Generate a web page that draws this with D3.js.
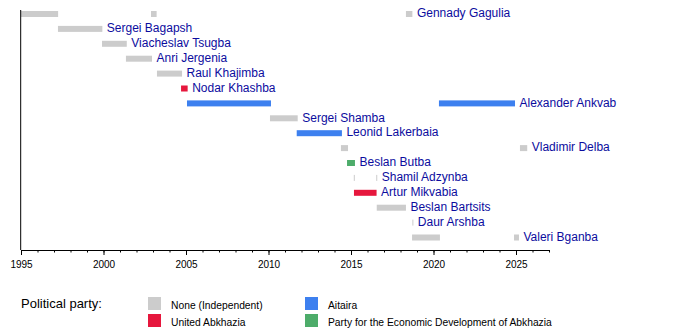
<!DOCTYPE html>
<html>
<head>
<meta charset="utf-8">
<script src="https://cdn.jsdelivr.net/npm/d3@7"></script>
<style>
  body { margin: 0; background: #fff; }
  text { font-family: "Liberation Sans", Arial, sans-serif; }
</style>
</head>
<body>
<script>
// people, top to bottom
const people = ["Gennady Gagulia","Sergei Bagapsh","Viacheslav Tsugba","Anri Jergenia","Raul Khajimba",
  "Nodar Khashba","Alexander Ankvab","Sergei Shamba","Leonid Lakerbaia","Vladimir Delba","Beslan Butba",
  "Shamil Adzynba","Artur Mikvabia","Beslan Bartsits","Daur Arshba","Valeri Bganba"];

const parties = ["None (Independent)","United Abkhazia","Aitaira","Party for the Economic Development of Abkhazia"];

// [name, from, to, party]
const terms = [
  ["Gennady Gagulia", 1995.0, 1997.25, "None (Independent)"],
  ["Gennady Gagulia", 2002.88, 2003.22, "None (Independent)"],
  ["Gennady Gagulia", 2018.33, 2018.72, "None (Independent)"],
  ["Sergei Bagapsh", 1997.24, 1999.93, "None (Independent)"],
  ["Viacheslav Tsugba", 1999.91, 2001.41, "None (Independent)"],
  ["Anri Jergenia", 2001.36, 2002.94, "None (Independent)"],
  ["Raul Khajimba", 2003.24, 2004.76, "None (Independent)"],
  ["Nodar Khashba", 2004.70, 2005.10, "United Abkhazia"],
  ["Alexander Ankvab", 2005.06, 2010.15, "Aitaira"],
  ["Alexander Ankvab", 2020.33, 2024.94, "Aitaira"],
  ["Sergei Shamba", 2010.09, 2011.77, "None (Independent)"],
  ["Leonid Lakerbaia", 2011.71, 2014.45, "Aitaira"],
  ["Vladimir Delba", 2014.39, 2014.82, "None (Independent)"],
  ["Vladimir Delba", 2025.24, 2025.68, "None (Independent)"],
  ["Beslan Butba", 2014.76, 2015.24, "Party for the Economic Development of Abkhazia"],
  ["Shamil Adzynba", 2015.17, 2015.23, "None (Independent)"],
  ["Shamil Adzynba", 2016.53, 2016.59, "None (Independent)"],
  ["Artur Mikvabia", 2015.18, 2016.55, "United Abkhazia"],
  ["Beslan Bartsits", 2016.56, 2018.33, "None (Independent)"],
  ["Daur Arshba", 2018.72, 2018.78, "None (Independent)"],
  ["Valeri Bganba", 2018.70, 2020.39, "None (Independent)"],
  ["Valeri Bganba", 2024.88, 2025.18, "None (Independent)"]
];

const majorTicks = [1995,2000,2005,2010,2015,2020,2025];
const yearRange = [1995, 2027];

const width = 700, height = 330;
const axisY = 250;

const svg = d3.select("body").append("svg")
  .attr("width", width).attr("height", height);

const x = d3.scaleLinear().domain(yearRange).range([21, 549]);
const y = d3.scaleBand().domain(people).range([6.55, 244.95]);
const color = d3.scaleOrdinal().domain(parties)
  .range(["#cccccc","#e6173d","#3d80ef","#4dac6a"]);

// bars
svg.append("g").selectAll("rect")
  .data(terms)
  .join("rect")
  .attr("x", d => x(d[1]))
  .attr("y", d => y(d[0]) + y.bandwidth()/2 - 3)
  .attr("width", d => Math.max(1, x(d[2]) - x(d[1])))
  .attr("height", 6)
  .attr("fill", d => color(d[3]));

// names after last bar
const lastEnd = d3.rollup(terms, v => d3.max(v, d => d[2]), d => d[0]);
svg.append("g").selectAll("text")
  .data(people)
  .join("text")
  .attr("x", d => x(lastEnd.get(d)) + 4.5)
  .attr("y", d => y(d) + y.bandwidth()/2 + 3.2)
  .attr("font-size", "12px")
  .attr("fill", "#0c0c9e")
  .text(d => d);

// axes
const minor = svg.append("g").attr("transform", `translate(0,${axisY})`)
  .call(d3.axisBottom(x).tickValues(d3.range(yearRange[0], yearRange[1] + 1)).tickSize(2.5).tickSizeOuter(0).tickFormat(""));
const major = svg.append("g").attr("transform", `translate(0,${axisY})`)
  .call(d3.axisBottom(x).tickValues(majorTicks).tickSize(5).tickSizeOuter(0).tickPadding(6).tickFormat(d3.format("d")));
major.selectAll("text").attr("font-size", "10px").attr("fill", "#000")
  .style("font-family", "'Liberation Sans', Arial, sans-serif");
svg.selectAll(".domain, .tick line").attr("stroke", "#000");

svg.append("line")
  .attr("x1", x(yearRange[0]) - 0.3).attr("x2", x(yearRange[0]) - 0.3)
  .attr("y1", 10).attr("y2", axisY)
  .attr("stroke", "#000");

// legend
svg.append("text").attr("x", 21).attr("y", 307.5)
  .attr("font-size", "13px").attr("fill", "#000").text("Political party:");

const lg = svg.append("g").selectAll("g")
  .data(parties)
  .join("g")
  .attr("transform", (d, i) => `translate(${i < 2 ? 148 : 305},${i % 2 === 0 ? 297 : 314})`);
lg.append("rect").attr("width", 13).attr("height", 13).attr("fill", d => color(d));
lg.append("text").attr("x", 23).attr("y", 12).attr("font-size", "10.3px").attr("fill", "#000").text(d => d);
</script>
</body>
</html>
